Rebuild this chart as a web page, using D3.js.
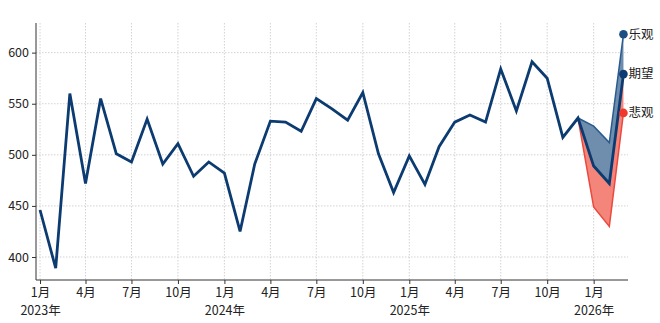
<!DOCTYPE html>
<html>
<head>
<meta charset="utf-8">
<script src="https://cdn.jsdelivr.net/npm/d3@7"></script>
<style>
  body { margin: 0; background: #fff; }
  svg text { font-family: "Noto Sans CJK SC", "Noto Sans", sans-serif; }
</style>
</head>
<body>
<div id="chart"></div>
<script>
// monthly index, Jan 2023 .. Dec 2025
var actual = [
  446, 389, 560, 472, 555, 501, 493, 535, 491, 511, 479, 493,
  482, 425, 491, 533, 532, 523, 555, 545, 534, 561, 501, 463,
  499, 471, 508, 532, 539, 532, 584, 543, 591, 575, 517, 536
];
// forecast Jan..Mar 2026 (starts from the last actual point)
var optimistic  = [528, 512, 618];
var expected    = [489, 472, 579];
var pessimistic = [449, 430, 541];
var scenarioNames = ["乐观", "期望", "悲观"];
var yTicks = [400, 450, 500, 550, 600];

var width = 660, height = 323;
var margin = { top: 23, right: 32, bottom: 43, left: 36 };

function monthDate(i) { return new Date(2023, i, 1); }

var actualData = actual.map(function (v, i) { return { d: monthDate(i), v: v }; });
var last = actualData[actualData.length - 1];
function fc(arr) {
  return [last].concat(arr.map(function (v, i) { return { d: monthDate(actual.length + i), v: v }; }));
}
var optData = fc(optimistic), expData = fc(expected), pesData = fc(pessimistic);

var x = d3.scaleTime()
  .domain([new Date(2022, 11, 24), new Date(2026, 2, 10)])
  .range([margin.left, width - margin.right]);
var y = d3.scaleLinear()
  .domain([377.5, 629])
  .range([height - margin.bottom, margin.top]);

var svg = d3.select("#chart").append("svg")
  .attr("width", width)
  .attr("height", height);

var xTicks = d3.range(0, 39, 3).map(monthDate);

// grid
svg.append("g").selectAll("line").data(yTicks).enter().append("line")
  .attr("x1", margin.left).attr("x2", width - margin.right)
  .attr("y1", function (d) { return y(d); }).attr("y2", function (d) { return y(d); })
  .attr("stroke", "#c8c8c8").attr("stroke-width", 0.8).attr("stroke-dasharray", "1.5,1.5");
svg.append("g").selectAll("line").data(xTicks).enter().append("line")
  .attr("y1", margin.top).attr("y2", height - margin.bottom)
  .attr("x1", function (d) { return x(d); }).attr("x2", function (d) { return x(d); })
  .attr("stroke", "#c8c8c8").attr("stroke-width", 0.8).attr("stroke-dasharray", "1.5,1.5");

// bands
function band(upper, lower) {
  return d3.area()
    .x(function (d, i) { return x(upper[i].d); })
    .y0(function (d, i) { return y(lower[i].v); })
    .y1(function (d, i) { return y(upper[i].v); })(upper);
}
svg.append("path").attr("d", band(expData, pesData))
  .attr("fill", "#f4857a").attr("stroke", "none");
svg.append("path").attr("d", band(optData, expData))
  .attr("fill", "#6f8dac").attr("stroke", "none");

var line = d3.line()
  .x(function (d) { return x(d.d); })
  .y(function (d) { return y(d.v); });

svg.append("path").datum(pesData).attr("d", line)
  .attr("fill", "none").attr("stroke", "#ea4a3e").attr("stroke-width", 1.5);
svg.append("path").datum(optData).attr("d", line)
  .attr("fill", "none").attr("stroke", "#2b5b8e").attr("stroke-width", 1.5);
svg.append("path").datum(actualData.concat(expData.slice(1))).attr("d", line)
  .attr("fill", "none").attr("stroke", "#0b3b70").attr("stroke-width", 2.8)
  .attr("stroke-linejoin", "miter");

// end markers
var ends = [
  { d: optData[3], name: scenarioNames[0], color: "#1e4f84" },
  { d: expData[3], name: scenarioNames[1], color: "#0b3b70" },
  { d: pesData[3], name: scenarioNames[2], color: "#f0392c" }
];
svg.append("g").selectAll("circle").data(ends).enter().append("circle")
  .attr("cx", function (e) { return x(e.d.d); })
  .attr("cy", function (e) { return y(e.d.v); })
  .attr("r", 4.3)
  .attr("fill", function (e) { return e.color; });
svg.append("g").selectAll("text").data(ends).enter().append("text")
  .attr("x", function (e) { return x(e.d.d) + 5; })
  .attr("y", function (e) { return y(e.d.v); })
  .attr("dy", "0.35em")
  .attr("font-size", 12.5)
  .attr("fill", "#222")
  .text(function (e) { return e.name; });

// axes
var yAxis = d3.axisLeft(y).tickValues(yTicks).tickSize(4).tickPadding(3);
var gy = svg.append("g").attr("transform", "translate(" + margin.left + ",0)").call(yAxis);
gy.select(".domain").attr("d", "M0," + margin.top + "V" + (height - margin.bottom)).attr("stroke", "#333");

var xAxis = d3.axisBottom(x).tickValues(xTicks).tickSize(4).tickPadding(4)
  .tickFormat(function (d) { return (d.getMonth() + 1) + "月"; });
var gx = svg.append("g").attr("transform", "translate(0," + (height - margin.bottom) + ")").call(xAxis);
gx.select(".domain").attr("d", "M" + margin.left + ",0H" + (width - margin.right)).attr("stroke", "#333");
gx.selectAll(".tick").filter(function (d) { return d.getMonth() === 0; })
  .append("text")
  .attr("y", 26.5).attr("dy", "0.71em")
  .attr("fill", "#222")
  .text(function (d) { return d.getFullYear() + "年"; });

svg.selectAll(".tick text").attr("font-size", 12.5).attr("fill", "#222");
svg.selectAll(".tick line").attr("stroke", "#333");
svg.selectAll(".tick text").attr("font-family", "Noto Sans CJK SC, Noto Sans, sans-serif");
</script>
</body>
</html>
